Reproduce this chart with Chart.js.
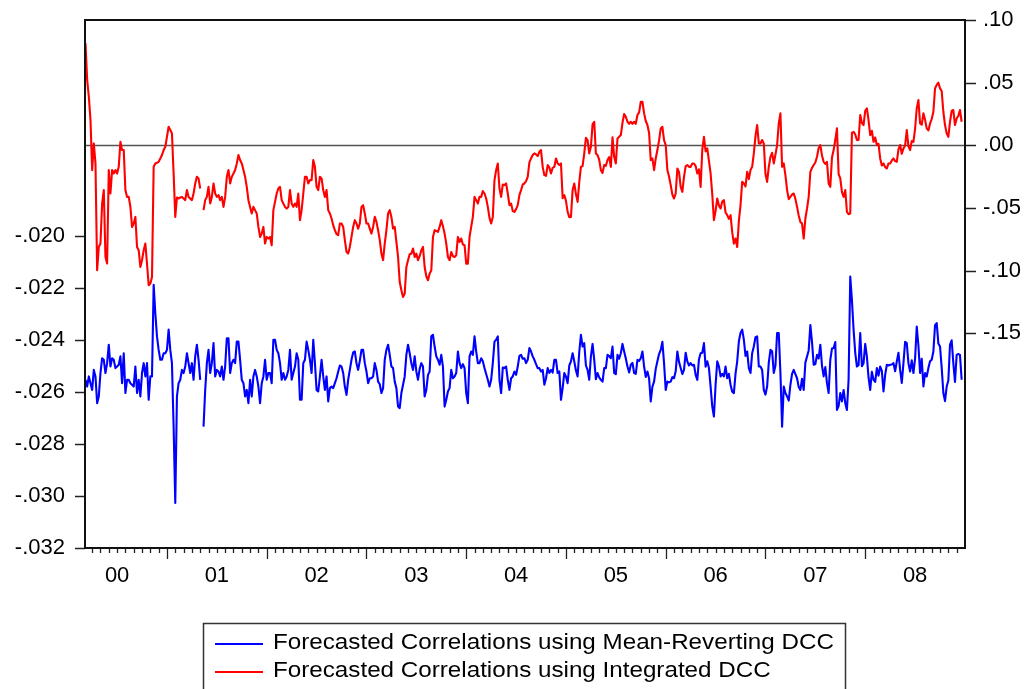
<!DOCTYPE html>
<html>
<head>
<meta charset="utf-8">
<title>Forecasted Correlations</title>
<script src="https://cdn.jsdelivr.net/npm/chart.js@4.4.1/dist/chart.umd.min.js"></script>
<style>
  html, body { margin: 0; padding: 0; background: #ffffff; }
  #wrap { position: relative; width: 1031px; height: 689px; }
</style>
</head>
<body>
<div id="wrap"><canvas id="chart"></canvas></div>
<script>
// Observations: 60 per year, starting early March 2000
const firstObs = 2000.183;
const obsPerYear = 60;

// Left axis: forecasted correlations, mean-reverting DCC
const meanRevertingDCC = [
  -0.02553, -0.02579, -0.02540, -0.02566, -0.02592, -0.02515, -0.02540, -0.02643, -0.02617, -0.02527,
  -0.02470, -0.02476, -0.02527, -0.02489, -0.02418, -0.02502, -0.02470, -0.02476, -0.02508, -0.02502,
  -0.02495, -0.02463, -0.02566, -0.02451, -0.02604, -0.02553, -0.02553, -0.02566, -0.02572, -0.02579,
  -0.02502, -0.02604, -0.02553, -0.02617, -0.02527, -0.02489, -0.02540, -0.02489, -0.02630, -0.02540,
  -0.02540, -0.02188, -0.02297, -0.02386, -0.02438, -0.02476, -0.02476, -0.02451, -0.02451, -0.02438,
  -0.02360, -0.02438, -0.02489, -0.02733, -0.03027, -0.02617, -0.02566, -0.02553, -0.02515, -0.02527,
  -0.02502, -0.02451, -0.02489, -0.02527, -0.02489, -0.02553, -0.02463, -0.02418, -0.02476, -0.02553,
  null, -0.02733, -0.02592, -0.02489, -0.02438, -0.02527, -0.02489, -0.02412, -0.02540, -0.02515,
  -0.02521, -0.02540, -0.02502, -0.02553, -0.02502, -0.02393, -0.02393, -0.02527, -0.02489, -0.02476,
  -0.02489, -0.02406, -0.02406, -0.02476, -0.02553, -0.02566, -0.02617, -0.02592, -0.02643, -0.02553,
  -0.02617, -0.02540, -0.02515, -0.02540, -0.02579, -0.02643, -0.02566, -0.02540, -0.02476, -0.02553,
  -0.02527, -0.02527, -0.02566, -0.02399, -0.02399, -0.02438, -0.02451, -0.02489, -0.02553, -0.02527,
  -0.02553, -0.02540, -0.02515, -0.02438, -0.02553, -0.02527, -0.02502, -0.02451, -0.02476, -0.02630,
  -0.02630, -0.02489, -0.02476, -0.02406, -0.02438, -0.02476, -0.02527,
  -0.02399,
  -0.02489, -0.02592, -0.02598, -0.02540, -0.02476, -0.02540, -0.02592, -0.02540, -0.02636, -0.02585,
  -0.02579, -0.02585, -0.02566, -0.02547, -0.02521, -0.02498, -0.02502, -0.02527, -0.02579, -0.02611,
  -0.02553, -0.02515, -0.02476, -0.02448, -0.02444, -0.02489, -0.02515, -0.02480, -0.02438, -0.02438,
  -0.02489, -0.02521, -0.02566, -0.02547, -0.02547, -0.02540, -0.02489, -0.02515, -0.02560, -0.02570,
  -0.02604, -0.02585, -0.02476, -0.02438, -0.02418, -0.02457, -0.02502, -0.02508, -0.02560, -0.02585,
  -0.02656, -0.02662, -0.02604, -0.02572, -0.02540, -0.02457, -0.02418, -0.02451, -0.02489, -0.02515,
  -0.02463, -0.02521, -0.02553, -0.02511, -0.02489, -0.02502, -0.02617, -0.02592, -0.02534, -0.02521,
  -0.02386, -0.02380, -0.02425, -0.02463, -0.02476, -0.02495, -0.02457, -0.02502, -0.02656, -0.02630,
  -0.02598, -0.02585, -0.02515, -0.02547, -0.02540, -0.02527, -0.02444, -0.02489, -0.02508, -0.02493,
  -0.02508, -0.02604, -0.02643, -0.02463, -0.02444, -0.02457, -0.02386, -0.02444, -0.02489, -0.02489,
  -0.02470, -0.02482, -0.02508, -0.02531, -0.02553, -0.02579, -0.02553, -0.02489, -0.02406, -0.02399,
  -0.02386, -0.02553, -0.02604, -0.02506, -0.02508, -0.02502, -0.02553, -0.02592, -0.02547, -0.02540,
  -0.02521, -0.02534, -0.02502, -0.02461, -0.02457, -0.02472, -0.02470, -0.02489, -0.02476, -0.02431,
  -0.02444,
  -0.02463,
  -0.02476, -0.02493, -0.02508, -0.02508, -0.02521, -0.02515, -0.02572, -0.02547, -0.02508, -0.02527,
  -0.02515, -0.02525, -0.02476, -0.02476, -0.02527, -0.02521, -0.02630, -0.02585, -0.02527, -0.02540,
  -0.02566, -0.02498, -0.02482, -0.02451, -0.02482, -0.02517, -0.02540, -0.02446, -0.02380, -0.02425,
  -0.02412, -0.02498, -0.02515, -0.02553, -0.02463, -0.02415, -0.02476, -0.02551, -0.02527, -0.02544,
  -0.02553, -0.02560, -0.02508, -0.02508, -0.02457, -0.02462, -0.02470, -0.02425, -0.02527, -0.02531,
  -0.02457, -0.02472, -0.02451, -0.02415, -0.02444, -0.02471, -0.02502, -0.02525, -0.02495, -0.02488,
  -0.02527, -0.02530, -0.02476, -0.02480, -0.02470, -0.02444, -0.02502, -0.02542, -0.02521, -0.02548,
  -0.02636, -0.02579, -0.02560, -0.02511, -0.02482, -0.02454, -0.02438, -0.02407, -0.02489, -0.02592,
  -0.02560, -0.02563, -0.02560, -0.02543, -0.02547, -0.02520, -0.02444, -0.02484, -0.02508, -0.02531,
  -0.02515, -0.02449, -0.02482, -0.02498, -0.02489, -0.02498, -0.02495, -0.02534, -0.02553, -0.02474,
  -0.02451, -0.02449, -0.02412, -0.02503, -0.02482, -0.02508, -0.02579, -0.02656, -0.02694, -0.02572,
  -0.02482, -0.02501, -0.02540, -0.02530, -0.02540, -0.02502, -0.02547, -0.02530, -0.02572, -0.02599,
  -0.02604, -0.02529, -0.02482, -0.02405, -0.02373, -0.02360, -0.02399, -0.02461, -0.02444, -0.02508,
  -0.02527,
  -0.02451,
  -0.02425, -0.02389, -0.02386, -0.02502, -0.02502, -0.02515, -0.02592, -0.02610, -0.02579, -0.02487,
  -0.02438, -0.02443, -0.02527, -0.02498, -0.02373, -0.02373, -0.02527, -0.02733, -0.02579, -0.02604,
  -0.02617, -0.02633, -0.02572, -0.02530, -0.02515, -0.02531, -0.02547, -0.02581, -0.02592, -0.02549,
  -0.02592, -0.02487, -0.02463, -0.02440, -0.02342, -0.02408, -0.02495, -0.02492, -0.02457, -0.02471,
  -0.02418, -0.02499, -0.02540, -0.02504, -0.02566, -0.02604, -0.02476, -0.02433, -0.02431, -0.02408,
  -0.02669, -0.02654, -0.02604, -0.02636, -0.02592, -0.02643, -0.02669, -0.02553, -0.02156, -0.02246,
  -0.02360, -0.02449, -0.02502, -0.02497, -0.02373, -0.02501, -0.02489, -0.02415, -0.02463, -0.02544,
  -0.02592, -0.02522, -0.02553, -0.02561, -0.02508, -0.02537, -0.02502, -0.02519, -0.02598, -0.02534,
  -0.02495, -0.02498, -0.02495, -0.02494, -0.02489, -0.02520, -0.02482, -0.02449, -0.02515, -0.02565,
  -0.02489, -0.02407, -0.02412, -0.02489, -0.02521, -0.02478, -0.02527, -0.02472, -0.02348, -0.02421,
  -0.02527, -0.02472, -0.02579, -0.02527, -0.02540, -0.02508, -0.02482, -0.02476, -0.02444, -0.02343,
  -0.02335, -0.02413, -0.02425, -0.02506, -0.02604, -0.02635, -0.02579, -0.02556, -0.02418, -0.02401,
  -0.02489, -0.02561, -0.02457, -0.02454, -0.02457,
  -0.02553
];

// Right axis: forecasted correlations, integrated DCC
const integratedDCC = [
  0.0816, 0.0523, 0.0389, 0.0203, -0.0197, 0.0016, -0.0144, -0.0997, -0.0811, -0.0784,
  -0.0464, -0.0357, -0.0891, -0.0944, -0.0197, -0.0384, -0.0197, -0.0224, -0.0197, -0.0224,
  -0.0171, 0.0029, -0.0037, -0.0037, -0.0357, -0.0411, -0.0411, -0.0491, -0.0651, -0.0624,
  -0.0571, -0.0811, -0.0837, -0.0971, -0.0917, -0.0837, -0.0784, -0.0944, -0.1117, -0.1104,
  -0.1051, -0.0171, -0.0144, -0.0139, -0.0131, -0.0104, -0.0077, -0.0037, -0.0011, 0.0069,
  0.0149, 0.0123, 0.0096, -0.0224, -0.0571, -0.0416, -0.0424, -0.0416, -0.0411, -0.0424,
  -0.0437, -0.0357, -0.0411, -0.0424, -0.0437, -0.0384, -0.0304, -0.0251, -0.0264, -0.0344,
  null, -0.0517, -0.0437, -0.0411, -0.0331, -0.0464, -0.0411, -0.0304, -0.0384, -0.0411,
  -0.0397, -0.0437, -0.0411, -0.0491, -0.0411, -0.0251, -0.0197, -0.0304, -0.0251, -0.0224,
  -0.0197, -0.0144, -0.0077, -0.0117, -0.0144, -0.0197, -0.0251, -0.0331, -0.0437, -0.0491,
  -0.0544, -0.0491, -0.0517, -0.0544, -0.0651, -0.0731, -0.0704, -0.0651, -0.0784, -0.0731,
  -0.0744, -0.0731, -0.0797, -0.0517, -0.0451, -0.0384, -0.0344, -0.0331, -0.0437, -0.0464,
  -0.0491, -0.0504, -0.0491, -0.0357, -0.0464, -0.0491, -0.0464, -0.0491, -0.0384, -0.0597,
  -0.0517, -0.0384, -0.0251, -0.0251, -0.0304, -0.0277, -0.0277,
  -0.0117,
  -0.0171, -0.0331, -0.0357, -0.0251, -0.0264, -0.0357, -0.0411, -0.0357, -0.0517, -0.0544,
  -0.0584, -0.0637, -0.0677, -0.0709, -0.0717, -0.0624, -0.0624, -0.0651, -0.0757, -0.0851,
  -0.0864, -0.0811, -0.0731, -0.0651, -0.0597, -0.0624, -0.0664, -0.0624, -0.0491, -0.0477,
  -0.0544, -0.0624, -0.0624, -0.0664, -0.0704, -0.0651, -0.0571, -0.0611, -0.0677, -0.0757,
  -0.0864, -0.0917, -0.0784, -0.0677, -0.0544, -0.0517, -0.0571, -0.0664, -0.0651, -0.0771,
  -0.0891, -0.1091, -0.1157, -0.1211, -0.1184, -0.0971, -0.0917, -0.0869, -0.0864, -0.0824,
  -0.0891, -0.0864, -0.0917, -0.0885, -0.0837, -0.0811, -0.0971, -0.1045, -0.1077, -0.1024,
  -0.0997, -0.0731, -0.0677, -0.0683, -0.0691, -0.0651, -0.0597, -0.0645, -0.0704, -0.0784,
  -0.0891, -0.0917, -0.0851, -0.0885, -0.0891, -0.0877, -0.0731, -0.0771, -0.0744, -0.0792,
  -0.0797, -0.0944, -0.0944, -0.0731, -0.0651, -0.0571, -0.0411, -0.0437, -0.0464, -0.0411,
  -0.0411, -0.0365, -0.0384, -0.0424, -0.0491, -0.0579, -0.0624, -0.0571, -0.0277, -0.0197,
  -0.0144, -0.0344, -0.0411, -0.0312, -0.0317, -0.0304, -0.0384, -0.0477, -0.0464, -0.0525,
  -0.0531, -0.0509, -0.0477, -0.0397, -0.0357, -0.0312, -0.0304, -0.0285, -0.0251, -0.0136,
  -0.0104,
  -0.0077,
  -0.0064, -0.0072, -0.0085, -0.0051, -0.0037, -0.0171, -0.0237, -0.0243, -0.0157, -0.0176,
  -0.0224, -0.0179, -0.0171, -0.0104, -0.0144, -0.0155, -0.0144, -0.0421, -0.0397, -0.0443,
  -0.0531, -0.0573, -0.0571, -0.0357, -0.0304, -0.0389, -0.0451, -0.0293, -0.0171, -0.0165,
  -0.0064, 0.0061, 0.0043, -0.0064, -0.0011, 0.0168, 0.0189, -0.0064, -0.0077, -0.0115,
  -0.0197, -0.0219, -0.0157, -0.0163, -0.0117, -0.0093, -0.0171, 0.0064, -0.0091, -0.0144,
  0.0056, 0.0069, 0.0083, 0.0181, 0.0251, 0.0229, 0.0189, 0.0173, 0.0189, 0.0173,
  0.0189, 0.0173, 0.0243, 0.0264, 0.0349, 0.0349, 0.0256, 0.0195, 0.0163, 0.0099,
  -0.0117, -0.0104, -0.0197, -0.0104, -0.0037, 0.0040, 0.0136, 0.0149, 0.0043, 0.0003,
  -0.0197, -0.0248, -0.0317, -0.0392, -0.0424, -0.0384, -0.0184, -0.0211, -0.0331, -0.0371,
  -0.0251, -0.0165, -0.0157, -0.0171, -0.0171, -0.0144, -0.0144, -0.0165, -0.0224, -0.0192,
  -0.0331, -0.0035, 0.0069, -0.0048, -0.0024, -0.0123, -0.0224, -0.0392, -0.0597, -0.0523,
  -0.0424, -0.0480, -0.0504, -0.0448, -0.0437, -0.0536, -0.0557, -0.0587, -0.0557, -0.0693,
  -0.0784, -0.0744, -0.0811, -0.0605, -0.0477, -0.0291, -0.0304, -0.0328, -0.0211, -0.0269,
  -0.0197,
  -0.0171,
  -0.0064, 0.0075, 0.0163, 0.0016, 0.0016, 0.0043, 0.0016, -0.0229, -0.0291, -0.0171,
  -0.0091, -0.0059, -0.0144, -0.0075, 0.0003, 0.0176, 0.0256, -0.0171, -0.0144, -0.0237,
  -0.0357, -0.0429, -0.0411, -0.0392, -0.0384, -0.0427, -0.0491, -0.0560, -0.0611, -0.0624,
  -0.0744, -0.0584, -0.0504, -0.0411, -0.0211, -0.0179, -0.0157, -0.0136, -0.0091, -0.0021,
  0.0003, -0.0080, -0.0131, -0.0147, -0.0131, -0.0304, -0.0331, -0.0096, -0.0037, 0.0043,
  0.0136, -0.0229, -0.0264, -0.0371, -0.0411, -0.0357, -0.0531, -0.0549, -0.0544, 0.0101,
  0.0109, 0.0088, 0.0043, 0.0043, 0.0243, 0.0179, 0.0163, 0.0277, 0.0296, 0.0203,
  0.0083, 0.0117, 0.0029, 0.0064, 0.0003, 0.0013, -0.0104, -0.0160, -0.0144, -0.0173,
  -0.0184, -0.0144, -0.0144, -0.0120, -0.0104, -0.0125, -0.0131, -0.0032, 0.0003, -0.0067,
  -0.0024, 0.0000, 0.0123, -0.0008, -0.0037, 0.0035, 0.0029, 0.0133, 0.0296, 0.0363,
  0.0176, 0.0165, 0.0256, 0.0205, 0.0136, 0.0120, 0.0176, 0.0211, 0.0269, 0.0456,
  0.0483, 0.0501, 0.0456, 0.0435, 0.0269, 0.0163, 0.0096, 0.0069, 0.0189, 0.0275,
  0.0283, 0.0163, 0.0216, 0.0235, 0.0283,
  0.0189
];

const seriesNames = [
  'Forecasted Correlations using Mean-Reverting DCC',
  'Forecasted Correlations using Integrated DCC'
];
const seriesColors = ['#0000ff', '#ff0000'];

// Axis ticks
const firstYear = 2000;
const yearLabels = ['00', '01', '02', '03', '04', '05', '06', '07', '08'];
const leftTickValues = [-0.032, -0.030, -0.028, -0.026, -0.024, -0.022, -0.020];
const rightTickValues = [-0.15, -0.10, -0.05, 0.00, 0.05, 0.10];

const FONT = "'Liberation Sans', Arial, Helvetica, sans-serif";

function decimalLabel(v, digits) {
  const body = Math.abs(v).toFixed(digits).replace(/^0/, '');
  return (v < -1e-9 ? '-' : '') + body;
}

function toPoints(values) {
  return values.map((v, i) => ({ x: firstObs + i / obsPerYear, y: v }));
}

// Vertical axes: fixed width, no extra room reserved for the end labels
function fixVerticalAxis(width) {
  return (scale) => {
    scale.width = width;
    scale.paddingTop = 0;
    scale.paddingBottom = 0;
  };
}

// Frame, zero line and outward tick marks
const framePlugin = {
  id: 'frame',
  beforeDatasetsDraw(chart) {
    const { ctx, chartArea: a, scales } = chart;
    const y0 = scales.y1.getPixelForValue(0);
    ctx.save();
    ctx.strokeStyle = '#555555';
    ctx.lineWidth = 1.5;
    ctx.beginPath();
    ctx.moveTo(a.left, y0);
    ctx.lineTo(a.right, y0);
    ctx.stroke();
    ctx.restore();
  },
  afterDraw(chart) {
    const { ctx, chartArea: a, scales } = chart;
    ctx.save();
    ctx.strokeStyle = '#222222';
    ctx.lineWidth = 1.3;
    ctx.beginPath();
    leftTickValues.forEach(v => {
      const y = Math.round(scales.y.getPixelForValue(v)) + 0.5;
      ctx.moveTo(a.left - 10, y);
      ctx.lineTo(a.left, y);
    });
    rightTickValues.forEach(v => {
      const y = Math.round(scales.y1.getPixelForValue(v)) + 0.5;
      ctx.moveTo(a.right, y);
      ctx.lineTo(a.right + 11, y);
    });
    for (let yr = firstYear; yr < firstYear + yearLabels.length; yr++) {
      for (let m = 0; m < 12; m++) {
        const t = yr + m / 12;
        if (t < scales.x.min || t > scales.x.max) continue;
        const x = Math.round(scales.x.getPixelForValue(t)) + 0.5;
        ctx.moveTo(x, a.bottom);
        ctx.lineTo(x, a.bottom + (m === 0 ? 11 : 5));
      }
    }
    ctx.stroke();

    ctx.strokeStyle = '#111111';
    ctx.lineWidth = 2;
    ctx.strokeRect(a.left, a.top, a.right - a.left, a.bottom - a.top);
    ctx.restore();
  }
};

// Boxed legend under the axis
const legendPlugin = {
  id: 'boxLegend',
  afterDraw(chart) {
    const ctx = chart.ctx;
    const box = { left: 203.5, top: 623.5, width: 642, height: 90 };
    const rows = [644, 672];
    ctx.save();
    ctx.strokeStyle = '#333333';
    ctx.lineWidth = 1.5;
    ctx.strokeRect(box.left, box.top, box.width, box.height);
    chart.data.datasets.forEach((ds, i) => {
      ctx.strokeStyle = ds.borderColor;
      ctx.lineWidth = 2;
      ctx.beginPath();
      ctx.moveTo(215, rows[i]);
      ctx.lineTo(263, rows[i]);
      ctx.stroke();
      ctx.save();
      ctx.translate(273, rows[i] - 1);
      ctx.scale(1.1, 1);
      ctx.fillStyle = '#000000';
      ctx.font = '22px ' + FONT;
      ctx.textBaseline = 'middle';
      ctx.fillText(ds.label, 0, 0);
      ctx.restore();
    });
    ctx.restore();
  }
};

new Chart(document.getElementById('chart'), {
  type: 'line',
  data: {
    datasets: [
      {
        label: seriesNames[0],
        data: toPoints(meanRevertingDCC),
        yAxisID: 'y',
        borderColor: seriesColors[0],
        borderWidth: 2.1,
        borderJoinStyle: 'round',
        pointRadius: 0,
        tension: 0,
        spanGaps: false
      },
      {
        label: seriesNames[1],
        data: toPoints(integratedDCC),
        yAxisID: 'y1',
        borderColor: seriesColors[1],
        borderWidth: 2.1,
        borderJoinStyle: 'round',
        pointRadius: 0,
        tension: 0,
        spanGaps: false
      }
    ]
  },
  options: {
    responsive: true,
    maintainAspectRatio: false,
    devicePixelRatio: 1,
    animation: false,
    events: [],
    layout: { padding: { top: 20, left: 0, right: 0, bottom: 0 } },
    plugins: {
      legend: { display: false },
      tooltip: { enabled: false },
      title: { display: false }
    },
    scales: {
      x: {
        type: 'linear',
        position: 'bottom',
        min: 2000.178,
        max: 2009.0,
        grid: { display: false, drawTicks: false, tickLength: 0 },
        border: { display: false },
        ticks: {
          color: '#000000',
          font: { family: FONT, size: 22 },
          padding: 15,
          maxRotation: 0,
          autoSkip: false,
          callback: (value) => yearLabels[Math.round(value - firstYear - 0.5)]
        },
        afterBuildTicks: (scale) => {
          scale.ticks = yearLabels.map((_, k) => ({ value: firstYear + k + 0.5 }));
        },
        afterFit: (scale) => {
          scale.height = 141;
          scale.paddingLeft = 0;
          scale.paddingRight = 0;
        }
      },
      y: {
        type: 'linear',
        position: 'left',
        min: -0.032,
        max: -0.01169,
        grid: { display: false, drawTicks: false, tickLength: 0 },
        border: { display: false },
        ticks: {
          color: '#000000',
          font: { family: FONT, size: 22 },
          padding: 20,
          callback: (value) => decimalLabel(value, 3)
        },
        afterBuildTicks: (scale) => {
          scale.ticks = leftTickValues.map(v => ({ value: v }));
        },
        afterFit: fixVerticalAxis(85)
      },
      y1: {
        type: 'linear',
        position: 'right',
        min: -0.3216,
        max: 0.1002,
        grid: { display: false, drawTicks: false, tickLength: 0 },
        border: { display: false },
        ticks: {
          color: '#000000',
          font: { family: FONT, size: 22 },
          padding: 18,
          callback: (value) => decimalLabel(value, 2)
        },
        afterBuildTicks: (scale) => {
          scale.ticks = rightTickValues.map(v => ({ value: v }));
        },
        afterFit: fixVerticalAxis(66)
      }
    }
  },
  plugins: [framePlugin, legendPlugin]
});
</script>
</body>
</html>
